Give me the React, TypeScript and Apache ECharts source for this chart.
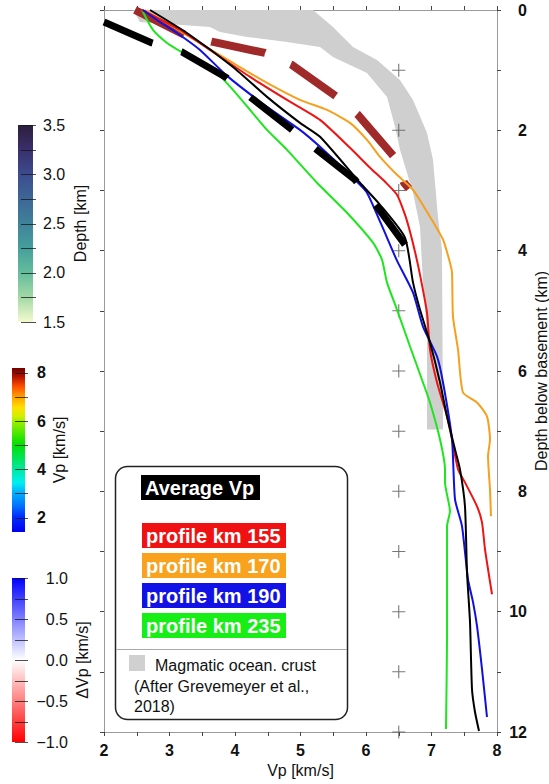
import React, { useEffect, useRef } from 'react';
import * as echarts from 'echarts';

const FONT = '"Liberation Sans", Arial, Helvetica, sans-serif';

// ---------- data ----------
// Average Vp (thick dashed black)
const avgVp = [2.0, 2.733, 3.191, 3.878, 4.229, 4.870, 5.191, 5.832, 6.168, 6.595];
const avgDepth = [0.2, 0.548, 0.697, 1.129, 1.444, 1.992, 2.274, 2.822, 3.270, 3.900];

// dashed dark red reference curve
const brownVp = [2.473, 3.237, 3.664, 4.458, 4.870, 5.557, 5.878, 6.443, 6.580, 6.656];
const brownDepth = [0.0, 0.415, 0.531, 0.714, 0.913, 1.444, 1.743, 2.456, 2.871, 2.971];

// thin black curve
const blackVp = [2.702, 3.267, 3.969, 4.489, 4.992, 5.298, 5.908, 6.214, 6.595, 6.718, 6.824, 6.977, 7.130, 7.237, 7.359, 7.435, 7.511, 7.542, 7.588, 7.618, 7.664, 7.725];
const blackDepth = [0.0, 0.382, 0.946, 1.444, 1.876, 2.108, 2.871, 3.237, 3.784, 4.531, 4.979, 5.527, 6.191, 6.755, 7.303, 7.635, 8.249, 9.344, 10.174, 11.286, 11.668, 11.983];

// profile km 155 (red)
const redVp = [2.580, 3.160, 3.618, 4.229, 4.794, 5.298, 5.756, 6.061, 6.290, 6.473, 6.595, 6.672, 6.748, 6.824, 6.931, 6.977, 7.084, 7.237, 7.313, 7.405, 7.511, 7.695, 7.771, 7.817, 7.924];
const redDepth = [0.0, 0.332, 0.664, 1.112, 1.494, 1.826, 2.290, 2.622, 2.855, 3.071, 3.402, 3.685, 4.017, 4.398, 5.029, 5.643, 6.191, 6.755, 7.137, 7.635, 7.851, 8.249, 8.515, 8.963, 9.710];

// profile km 170 (orange)
const orangeVp = [2.626, 3.206, 3.969, 4.489, 4.992, 5.405, 5.756, 6.015, 6.214, 6.473, 6.718, 6.977, 7.176, 7.282, 7.313, 7.328, 7.405, 7.481, 7.695, 7.847, 7.893, 7.863, 7.893, 7.908];
const orangeDepth = [0.0, 0.382, 0.880, 1.212, 1.494, 1.660, 1.876, 2.158, 2.440, 2.739, 2.988, 3.436, 3.817, 4.199, 4.365, 5.095, 5.643, 6.357, 6.523, 6.755, 7.137, 7.419, 7.967, 8.415];

// profile km 190 (blue)
const blueVp = [2.595, 2.855, 3.115, 3.466, 3.878, 4.489, 4.992, 5.298, 5.863, 6.015, 6.229, 6.473, 6.718, 6.870, 7.084, 7.176, 7.313, 7.359, 7.466, 7.557, 7.634, 7.695, 7.771, 7.847];
const blueDepth = [0.0, 0.199, 0.382, 0.664, 1.095, 1.610, 1.992, 2.274, 2.855, 3.037, 3.552, 4.166, 4.697, 5.261, 5.759, 6.191, 7.137, 8.133, 8.581, 9.461, 9.842, 10.241, 10.954, 11.751];

// profile km 235 (green)
const greenVp = [2.580, 2.748, 2.962, 3.206, 3.466, 3.725, 3.969, 4.229, 4.489, 4.794, 5.252, 5.710, 6.107, 6.244, 6.321, 6.473, 6.672, 6.870, 6.977, 7.130, 7.206, 7.206, 7.282, 7.237, 7.237, 7.221];
const greenDepth = [0.0, 0.332, 0.548, 0.714, 0.880, 1.046, 1.328, 1.660, 1.992, 2.324, 2.871, 3.369, 3.867, 4.149, 4.531, 4.979, 5.593, 6.191, 6.523, 7.137, 7.635, 7.851, 8.332, 8.581, 10.456, 11.950];

// Magmatic oceanic crust envelope (polygon outline)
const crustVp = [2.443, 5.191, 5.496, 5.802, 6.168, 6.519, 6.718, 6.931, 7.023, 7.099, 7.160, 7.176, 6.931, 6.931, 6.870, 6.824, 6.718, 6.519, 6.443, 6.321, 6.015, 5.496, 5.298, 4.794, 4.183, 3.771, 3.618, 2.550];
const crustDepth = [0.0, 0.0, 0.282, 0.614, 0.830, 1.162, 1.494, 2.041, 2.490, 3.436, 3.983, 6.971, 6.971, 5.361, 4.531, 3.602, 3.037, 2.324, 1.942, 1.444, 1.046, 0.780, 0.614, 0.531, 0.448, 0.365, 0.282, 0.199];

// grid crosses
const crossVp = 6.5;
const crossDepths = [1, 2, 3, 4, 5, 6, 7, 8, 9, 10, 11, 12];

// legend
const legendLabels = ['profile km 155', 'profile km 170', 'profile km 190', 'profile km 235'];
const legendColors = ['#f01212', '#f8a21e', '#1212e6', '#16ee16'];
const lineColors = ['#ee1414', '#f5a01e', '#1010e0', '#1ee61e'];

// colorbars
const depthTickValues = [1.5, 2.0, 2.5, 3.0, 3.5];
const depthStopValues = [3.5, 3.25, 3.0, 2.75, 2.5, 2.25, 2.0, 1.75, 1.5];
const depthStopColors = ['#2c1e3b', '#3a2f6c', '#3c4c8e', '#3d6796', '#3f829a', '#469f9c', '#64bd9c', '#a3d9a6', '#f3fad0'];

const vpTickValues = [2, 4, 6, 8];
const vpStopValues = [8.2, 7.85, 7.43, 7.0, 6.55, 6.2, 6.0, 5.52, 5.03, 4.0, 3.45, 3.04, 2.46, 2.05, 1.4];
const vpStopColors = ['#6e0000', '#b01000', '#ff5000', '#ffa000', '#ffe000', '#d0f000', '#a0f000', '#50e800', '#00e000', '#00e8a0', '#00f0f0', '#00b0ff', '#0070ff', '#0030ff', '#0000f0'];

const dvpTickValues = [-1.0, -0.5, 0.0, 0.5, 1.0];
const dvpStopValues = [1.0, 0.0, -1.0];
const dvpStopColors = ['#0000ff', '#ffffff', '#ff0000'];

const zip = (a: number[], b: number[]) => a.map((v, i) => [v, b[i]]);

function colorbar(cfg: {
  x: number; y: number; w: number; h: number; vmin: number; vmax: number;
  stopValues: number[]; stopColors: string[]; minorStep: number;
  ticks: number[]; fmt: (v: number) => string; labelX: number; labelAlign: string;
  labelBold: boolean; title: string; titleX: number;
}) {
  const { x, y, w, h, vmin, vmax } = cfg;
  const toY = (v: number) => y + ((vmax - v) / (vmax - vmin)) * h;
  const els: any[] = [];
  els.push({
    type: 'rect', z: 100,
    shape: { x, y, width: w, height: h },
    style: {
      fill: new echarts.graphic.LinearGradient(0, 0, 0, 1,
        cfg.stopValues.map((v, i) => ({ offset: (vmax - v) / (vmax - vmin), color: cfg.stopColors[i] }))),
    },
  });
  const start = Math.ceil((vmin - 1e-9) / cfg.minorStep) * cfg.minorStep;
  for (let v = start; v <= vmax + 1e-9; v += cfg.minorStep) {
    const ty = Math.round(toY(v)) + 0.5;
    els.push({
      type: 'line', z: 101,
      shape: { x1: x + 3, y1: ty, x2: x + w + 3, y2: ty },
      style: { stroke: 'rgba(20,20,20,0.75)', lineWidth: 1 },
    });
  }
  cfg.ticks.forEach((v) => {
    els.push({
      type: 'text', z: 101, x: cfg.labelX, y: toY(v),
      style: {
        text: cfg.fmt(v), fontSize: 16, fontFamily: FONT, fontWeight: cfg.labelBold ? 'bold' : 'normal',
        fill: '#111', align: cfg.labelAlign, verticalAlign: 'middle',
      },
    });
  });
  els.push({
    type: 'text', z: 101, x: cfg.titleX, y: y + h / 2, rotation: Math.PI / 2,
    style: {
      text: cfg.title, fontSize: 16, fontFamily: FONT, fill: '#111',
      align: 'center', verticalAlign: 'middle',
    },
  });
  return els;
}

export default function App() {
  const ref = useRef<HTMLDivElement>(null);

  useEffect(() => {
    if (!ref.current) return;
    const chart = echarts.init(ref.current, undefined, { renderer: 'svg' });

    const axisLine = { show: true, onZero: false, lineStyle: { color: '#9a9a9a', width: 1 } };
    const axisTick = { show: true, inside: false, length: 4, lineStyle: { color: '#444', width: 1 } };

    const thinLine = (name: string, vp: number[], d: number[], color: string) => ({
      name, type: 'line', data: zip(vp, d), showSymbol: false, smooth: 0.2,
      lineStyle: { color, width: 2 }, silent: true,
    });

    const graphics: any[] = [];
    graphics.push(...colorbar({
      x: 18, y: 125, w: 15, h: 197, vmin: 1.5, vmax: 3.5,
      stopValues: depthStopValues, stopColors: depthStopColors, minorStep: 0.25,
      ticks: depthTickValues, fmt: (v) => v.toFixed(1), labelX: 43, labelAlign: 'left',
      labelBold: false, title: 'Depth [km]', titleX: 80,
    }));
    graphics.push(...colorbar({
      x: 12, y: 368, w: 13, h: 164, vmin: 1.4, vmax: 8.2,
      stopValues: vpStopValues, stopColors: vpStopColors, minorStep: 1,
      ticks: vpTickValues, fmt: (v) => String(v), labelX: 37, labelAlign: 'left',
      labelBold: true, title: 'Vp [km/s]', titleX: 59,
    }));
    graphics.push(...colorbar({
      x: 12, y: 578, w: 13, h: 164, vmin: -1, vmax: 1,
      stopValues: dvpStopValues, stopColors: dvpStopColors, minorStep: 0.25,
      ticks: dvpTickValues, fmt: (v) => (v < 0 ? '\u2212' + Math.abs(v).toFixed(1) : v.toFixed(1)),
      labelX: 68, labelAlign: 'right', labelBold: false, title: '\u0394Vp [km/s]', titleX: 82,
    }));

    // legend box
    graphics.push({
      type: 'rect', z: 100,
      shape: { x: 115.5, y: 466.5, width: 232, height: 253, r: 12 },
      style: { fill: '#fff', stroke: '#222', lineWidth: 1.5 },
    });
    graphics.push({
      type: 'rect', z: 101, shape: { x: 141, y: 475, width: 119, height: 25 },
      style: { fill: '#000' },
    });
    graphics.push({
      type: 'text', z: 102, x: 145, y: 488,
      style: { text: 'Average Vp', fontSize: 20, fontWeight: 'bold', fontFamily: FONT, fill: '#fff', align: 'left', verticalAlign: 'middle' },
    });
    legendLabels.forEach((lab, i) => {
      const yy = 523 + i * 30;
      graphics.push({
        type: 'rect', z: 101, shape: { x: 142, y: yy, width: 144, height: 25 },
        style: { fill: legendColors[i] },
      });
      graphics.push({
        type: 'text', z: 102, x: 146, y: yy + 13,
        style: { text: lab, fontSize: 20, fontWeight: 'bold', fontFamily: FONT, fill: '#fff', align: 'left', verticalAlign: 'middle' },
      });
    });
    graphics.push({
      type: 'line', z: 101, shape: { x1: 116, y1: 649.5, x2: 347, y2: 649.5 },
      style: { stroke: '#aaa', lineWidth: 1 },
    });
    graphics.push({
      type: 'rect', z: 101, shape: { x: 129, y: 655, width: 16, height: 16 },
      style: { fill: '#d0d0d0' },
    });
    graphics.push({
      type: 'text', z: 102, x: 155, y: 665,
      style: { text: 'Magmatic ocean. crust', fontSize: 16, fontFamily: FONT, fill: '#111', align: 'left', verticalAlign: 'middle' },
    });
    graphics.push({
      type: 'text', z: 102, x: 134, y: 686,
      style: { text: '(After Grevemeyer et al.,', fontSize: 16, fontFamily: FONT, fill: '#111', align: 'left', verticalAlign: 'middle' },
    });
    graphics.push({
      type: 'text', z: 102, x: 134, y: 706,
      style: { text: '2018)', fontSize: 16, fontFamily: FONT, fill: '#111', align: 'left', verticalAlign: 'middle' },
    });

    const option: any = {
      animation: false,
      backgroundColor: '#fff',
      grid: { left: 104, right: 52, top: 10, bottom: 52, containLabel: false, outerBoundsMode: 'none' },
      xAxis: [
        {
          type: 'value', position: 'bottom', min: 2, max: 8, interval: 0.5,
          axisLine, axisTick, splitLine: { show: false },
          axisLabel: {
            formatter: (v: number) => (Number.isInteger(v) ? String(v) : ''),
            fontSize: 16, fontWeight: 'bold', color: '#111', fontFamily: FONT, margin: 10,
          },
          name: 'Vp [km/s]', nameLocation: 'middle', nameGap: 30, nameMoveOverlap: false,
          nameTextStyle: { fontSize: 16, color: '#111', fontFamily: FONT },
        },
        {
          type: 'value', position: 'top', min: 2, max: 8, interval: 0.5,
          axisLine, axisTick, splitLine: { show: false }, axisLabel: { show: false },
        },
      ],
      yAxis: [
        {
          type: 'value', position: 'right', inverse: true, min: 0, max: 12, interval: 1,
          axisLine, axisTick, splitLine: { show: false },
          axisLabel: {
            formatter: (v: number) => (v % 2 === 0 ? String(v) : ''),
            fontSize: 16, fontWeight: 'bold', color: '#111', fontFamily: FONT, margin: 30, align: 'right',
          },
          name: 'Depth below basement (km)', nameLocation: 'middle', nameGap: 36, nameRotate: 90,
          nameMoveOverlap: false,
          nameTextStyle: { fontSize: 16, color: '#111', fontFamily: FONT },
        },
        {
          type: 'value', position: 'left', inverse: true, min: 0, max: 12, interval: 1,
          axisLine, axisTick, splitLine: { show: false }, axisLabel: { show: false },
        },
      ],
      graphic: { elements: graphics },
      series: [
        {
          type: 'custom', silent: true,
          data: [[crustVp[0], crustDepth[0]]],
          renderItem: (_params: any, api: any) => ({
            type: 'polygon',
            shape: { points: crustVp.map((v, i) => api.coord([v, crustDepth[i]])) },
            style: { fill: '#cfcfcf' },
          }),
        },
        {
          type: 'scatter', silent: true,
          data: crossDepths.map((d) => [crossVp, d]),
          symbol: 'path://M5.5,0H6.5V5.5H12V6.5H6.5V12H5.5V6.5H0V5.5H5.5Z',
          symbolSize: 13,
          itemStyle: { color: '#555' },
        },
        {
          type: 'line', data: zip(brownVp, brownDepth), showSymbol: false, silent: true,
          lineStyle: { color: '#a02a2a', width: 8, type: [55, 28], cap: 'butt' },
        },
        thinLine('profile km 235', greenVp, greenDepth, lineColors[3]),
        thinLine('profile km 170', orangeVp, orangeDepth, lineColors[1]),
        thinLine('profile km 155', redVp, redDepth, lineColors[0]),
        thinLine('profile km 190', blueVp, blueDepth, lineColors[2]),
        thinLine('black', blackVp, blackDepth, '#000'),
        {
          type: 'line', data: zip(avgVp, avgDepth), showSymbol: false, silent: true,
          lineStyle: { color: '#000', width: 7, type: [53, 30], cap: 'butt' },
        },
      ],
    };
    chart.setOption(option);
    return () => chart.dispose();
  }, []);

  return (
    <div
      ref={ref}
      style={{ position: 'absolute', left: 0, top: 0, width: 549, height: 784, background: '#fff' }}
    />
  );
}
